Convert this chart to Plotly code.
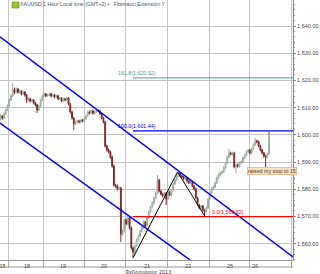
import plotly.graph_objects as go

# ---------------- data ----------------
closes = [
    1606.9, 1606.2, 1607.7, 1609.1, 1610.6, 1612.8, 1614.3, 1616.5, 1615.7, 1616.8,
    1615.7, 1616.1, 1615.0, 1615.7, 1614.6, 1612.8, 1613.2, 1612.4, 1612.8, 1611.7,
    1611.0, 1609.1, 1610.6, 1612.8, 1614.3, 1615.0, 1614.3, 1614.6, 1615.0, 1614.3,
    1614.6, 1613.9, 1614.3, 1613.2, 1613.5, 1612.4, 1613.2, 1612.8, 1613.5, 1611.3,
    1608.4, 1606.2, 1604.0, 1604.7, 1605.1, 1604.7, 1605.4, 1605.1, 1605.8, 1606.9,
    1608.4, 1608.0, 1608.8, 1607.9, 1608.4, 1609.1, 1608.8, 1607.7, 1606.2, 1604.7,
    1595.9, 1594.4, 1593.7, 1591.8, 1588.5, 1581.5, 1581.2, 1580.1, 1580.4, 1563.5,
    1564.6, 1568.7, 1567.2, 1569.4, 1565.7, 1558.4, 1556.9, 1559.1, 1561.3, 1562.8,
    1564.6, 1565.7, 1567.9, 1566.5, 1569.4, 1571.6, 1573.5, 1574.9, 1576.8, 1578.6,
    1583.4, 1579.3, 1578.2, 1577.5, 1578.6, 1576.4, 1579.0, 1577.9, 1579.7, 1581.9,
    1583.4, 1584.9, 1585.9, 1584.9, 1584.5, 1583.8, 1584.1, 1583.0, 1582.3, 1582.7,
    1581.2, 1580.1, 1576.8, 1574.2, 1573.1, 1573.8, 1572.4, 1571.6, 1573.1, 1576.4,
    1578.6, 1580.1, 1580.8, 1582.3, 1584.1, 1585.2, 1586.0, 1586.4, 1587.8, 1589.6,
    1591.8, 1593.3, 1592.9, 1593.3, 1588.2, 1588.9, 1588.5, 1589.6, 1590.0, 1591.5,
    1592.6, 1593.7, 1594.4, 1593.3, 1594.8, 1596.3, 1597.7, 1597.4, 1595.9, 1594.4,
    1593.3, 1592.2, 1591.9, 1592.9, 1601.0,
]
highs = [
    1607.6, 1607.3, 1608.2, 1609.6, 1611.2, 1613.4, 1615.0, 1619.0, 1617.3, 1617.5,
    1617.2, 1616.7, 1616.5, 1616.3, 1616.1, 1615.0, 1613.8, 1613.7, 1613.3, 1613.2,
    1612.1, 1611.4, 1611.1, 1613.3, 1614.8, 1615.5, 1615.4, 1615.1, 1615.5, 1615.4,
    1615.1, 1615.0, 1614.8, 1614.7, 1614.0, 1613.9, 1613.7, 1613.6, 1614.0, 1613.9,
    1611.7, 1608.8, 1606.6, 1605.2, 1605.6, 1605.5, 1605.9, 1605.8, 1606.3, 1607.4,
    1608.9, 1608.9, 1609.3, 1609.2, 1608.9, 1609.4, 1609.2, 1609.2, 1608.1, 1606.6,
    1605.1, 1596.4, 1595.0, 1594.2, 1592.3, 1589.0, 1582.0, 1581.7, 1581.0, 1580.9,
    1565.2, 1569.3, 1569.2, 1570.0, 1569.9, 1566.2, 1558.9, 1559.6, 1561.8, 1563.3,
    1565.1, 1566.3, 1568.5, 1568.4, 1570.0, 1572.2, 1574.0, 1575.5, 1577.3, 1579.1,
    1585.2, 1583.8, 1579.8, 1578.7, 1579.1, 1579.0, 1579.5, 1579.5, 1580.2, 1582.4,
    1583.9, 1585.4, 1586.3, 1586.1, 1585.3, 1585.0, 1584.6, 1584.5, 1583.4, 1583.2,
    1583.1, 1581.6, 1580.5, 1577.2, 1574.6, 1574.3, 1574.2, 1572.8, 1573.6, 1576.9,
    1579.1, 1580.6, 1581.3, 1582.8, 1584.6, 1585.7, 1586.5, 1586.9, 1588.3, 1590.1,
    1592.3, 1594.8, 1593.8, 1593.8, 1593.7, 1589.4, 1589.4, 1590.1, 1590.5, 1592.0,
    1593.1, 1594.2, 1594.9, 1594.8, 1595.3, 1596.8, 1598.8, 1598.2, 1597.8, 1596.3,
    1594.8, 1593.7, 1592.6, 1593.4, 1601.4,
]
lows = [
    1605.3, 1605.5, 1605.8, 1607.3, 1608.7, 1610.2, 1612.3, 1613.9, 1615.0, 1615.2,
    1615.1, 1615.2, 1614.5, 1614.6, 1614.0, 1611.7, 1612.3, 1611.9, 1611.9, 1611.2,
    1610.4, 1608.0, 1608.7, 1610.2, 1612.4, 1613.9, 1613.8, 1613.9, 1614.1, 1613.8,
    1613.9, 1613.4, 1613.5, 1612.7, 1612.8, 1611.9, 1612.0, 1612.3, 1612.4, 1610.8,
    1607.8, 1605.6, 1601.8, 1603.5, 1604.3, 1604.2, 1604.3, 1604.6, 1604.7, 1605.4,
    1606.5, 1607.5, 1607.6, 1607.4, 1607.5, 1608.0, 1608.3, 1607.2, 1605.7, 1604.2,
    1595.3, 1593.8, 1593.1, 1591.2, 1587.9, 1580.9, 1580.5, 1579.5, 1579.6, 1560.6,
    1562.9, 1564.1, 1566.6, 1566.8, 1565.1, 1557.8, 1554.8, 1556.3, 1558.7, 1560.8,
    1562.3, 1564.1, 1565.3, 1565.9, 1566.1, 1569.0, 1571.1, 1573.0, 1574.4, 1576.3,
    1578.1, 1578.8, 1577.7, 1577.0, 1577.0, 1574.2, 1575.9, 1577.4, 1577.4, 1579.3,
    1581.5, 1583.0, 1584.5, 1584.4, 1584.0, 1583.3, 1583.3, 1582.5, 1581.8, 1581.9,
    1580.7, 1579.6, 1576.3, 1573.7, 1572.6, 1572.6, 1571.9, 1569.9, 1571.1, 1572.7,
    1576.0, 1578.2, 1579.6, 1580.4, 1581.9, 1583.7, 1584.8, 1585.6, 1586.0, 1587.4,
    1589.2, 1591.4, 1592.4, 1592.4, 1587.7, 1585.9, 1587.9, 1588.0, 1589.1, 1589.6,
    1591.1, 1592.2, 1593.3, 1592.8, 1592.9, 1594.4, 1595.9, 1596.9, 1595.4, 1593.9,
    1592.8, 1591.5, 1587.9, 1591.4, 1592.5,
]
first_open = 1606.0
opens = [first_open] + closes[:-1]
hours = list(range(len(closes)))

# day boundaries (hours) and day labels
day_bounds = [4.3, 24.4, 47.9, 71.4, 96.0, 120.1, 143.0, 167.1]
day_label_pos = [15.2, 35.8, 59.3, 84.0, 107.5, 131.6, 145.9]
day_labels = ["18", "19", "20", "21", "22", "25", "26"]
month_label = "Φεβρουάριος 2013"
prev_label = "Φεβ 15"

# price ticks
price_ticks = [1560, 1570, 1580, 1590, 1600, 1610, 1620, 1630, 1640]

# trend channel (hour, price)
chan_upper_x = [-0.3, 167.7]
chan_upper_y = [1636.0, 1555.1]
chan_lower_x = [-0.3, 108.6]
chan_lower_y = [1604.3, 1554.0]

# Fibonacci extension points A, B, C
fib_pts_x = [76.0, 101.5, 117.3]
fib_pts_y = [1554.80, 1586.32, 1569.92]
fib_ratios = ["0.0", "100.0", "161.8"]
fib_levels = [1569.92, 1601.44, 1620.92]
fib_colors = ["#ff0000", "#0000ee", "#4a9c9c"]
fib_widths = [1.4, 1.4, 1.0]
fib_label_x = [130.5, 78.3, 78.3]

title_text = "XAUUSD 1 Hour Local time (GMT+2) \u2022   Fibonacci Extension Y"
note_text = "raised my stop to 15"
note_x, note_y = 141.4, 1586.7

X0, X1 = -0.3, 167.7
Y0, Y1 = 1553.97, 1649.56
FONT = "Liberation Sans"

fig = go.Figure()

fig.add_trace(go.Candlestick(
    x=hours, open=opens, high=highs, low=lows, close=closes,
    increasing=dict(line=dict(color="#9aaa9a", width=1), fillcolor="#f4f8f4"),
    decreasing=dict(line=dict(color="#7a2a2a", width=1), fillcolor="#7a0000"),
    whiskerwidth=0, showlegend=False, hoverinfo="skip",
))

# channel
fig.add_trace(go.Scatter(x=chan_upper_x, y=chan_upper_y, mode="lines",
                         line=dict(color="#0000ee", width=1.4), showlegend=False, hoverinfo="skip"))
fig.add_trace(go.Scatter(x=chan_lower_x, y=chan_lower_y, mode="lines",
                         line=dict(color="#0000ee", width=1.4), showlegend=False, hoverinfo="skip"))

# fib levels
for lvl, col, w in zip(fib_levels, fib_colors, fib_widths):
    fig.add_trace(go.Scatter(x=[fib_pts_x[0], X1], y=[lvl, lvl], mode="lines",
                             line=dict(color=col, width=w), showlegend=False, hoverinfo="skip"))

# fib zigzag A-B-C
fig.add_trace(go.Scatter(x=fib_pts_x, y=fib_pts_y, mode="lines",
                         line=dict(color="#000000", width=1.0), showlegend=False, hoverinfo="skip"))

annotations = []
for r, lvl, col, lx in zip(fib_ratios, fib_levels, fib_colors, fib_label_x):
    annotations.append(dict(x=lx, y=lvl, xref="x", yref="y", text=f"{r}({lvl:,.2f})",
                            showarrow=False, yanchor="bottom", yshift=0,
                            font=dict(family=FONT, size=5.3, color=col)))

for pos, lab in zip(day_label_pos, day_labels):
    annotations.append(dict(x=pos, y=-0.003, xref="x", yref="paper", text=lab, showarrow=False,
                            yanchor="top", font=dict(family=FONT, size=5.5, color="#444444")))
annotations.append(dict(x=day_bounds[0] + 0.2, y=-0.003, xref="x", yref="paper", text=prev_label,
                        showarrow=False, xanchor="right", yanchor="top",
                        font=dict(family=FONT, size=5.5, color="#444444")))
annotations.append(dict(x=84.3, y=-0.028, xref="x", yref="paper", text=month_label, showarrow=False,
                        yanchor="top", font=dict(family=FONT, size=5.5, color="#444444")))
annotations.append(dict(x=0.063, y=1.0, xref="paper", yref="paper", text=title_text, showarrow=False,
                        xanchor="left", yanchor="top", yshift=1,
                        font=dict(family=FONT, size=5.2, color="#555555")))
annotations.append(dict(x=note_x, y=note_y, xref="x", yref="y", text=note_text, showarrow=False,
                        xanchor="left", yanchor="middle", bgcolor="#f4e0c2", bordercolor="#d9a86a",
                        borderwidth=0.6, borderpad=0.5,
                        font=dict(family=FONT, size=5.3, color="#5a3a1a")))

shapes = [
    # icon
    dict(type="rect", xref="paper", yref="paper", x0=12/293, x1=19/293, y0=1 - 8/260, y1=1 - 2/260,
         fillcolor="#9cc43c", line=dict(color="#5c7a20", width=0.6)),
    # bottom axis row lower line
    dict(type="line", xref="paper", yref="paper", x0=0, x1=1, y0=-7/260, y1=-7/260,
         line=dict(color="#999999", width=1)),
]

fig.update_layout(
    width=320, height=274,
    margin=dict(l=0, r=27, t=0, b=14),
    paper_bgcolor="white", plot_bgcolor="white",
    showlegend=False,
    annotations=annotations, shapes=shapes,
    xaxis=dict(range=[X0, X1], rangeslider=dict(visible=False),
               tickvals=[], showgrid=False, zeroline=False,
               showline=True, linecolor="#999999", linewidth=1,
               minor=dict(tickmode="array", tickvals=day_bounds, showgrid=True,
                          gridcolor="#c4c4c4", gridwidth=1, ticks="outside",
                          ticklen=7, tickcolor="#aaaaaa", tickwidth=1)),
    yaxis=dict(range=[Y0, Y1], side="right", tickvals=price_ticks,
               tickformat=",.2f", showgrid=True, gridcolor="#c4c4c4", gridwidth=1,
               zeroline=False, showline=True, linecolor="#888888", linewidth=1,
               ticks="outside", ticklen=2, tickcolor="#888888",
               tickfont=dict(family=FONT, size=5.5, color="#444444"),
               minor=dict(dtick=2, ticks="outside", ticklen=1, tickcolor="#999999")),
)

fig.write_html("out.html")
